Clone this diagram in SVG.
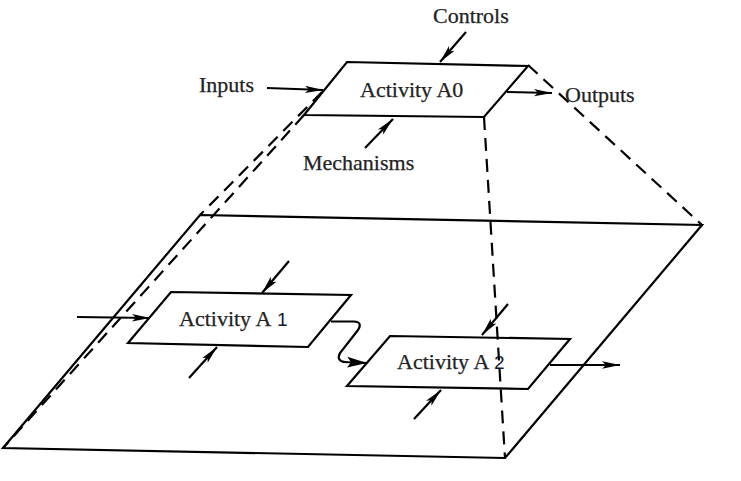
<svg xmlns="http://www.w3.org/2000/svg" width="741" height="481" viewBox="0 0 741 481">
<style>
.box{fill:none;stroke:#000;stroke-width:2.2;stroke-linejoin:miter}
.edge{fill:none;stroke:#000;stroke-width:2.2}
.dash{fill:none;stroke:#000;stroke-width:2.2;stroke-dasharray:13 8}
.arr{fill:none;stroke:#000;stroke-width:2.2;marker-end:url(#ah)}
.lbl{font-family:"Liberation Serif","Times New Roman",serif;font-size:22px;fill:#222;stroke:#222;stroke-width:0.25}
.dig{font-family:"Liberation Sans",Arial,sans-serif;font-size:19px;fill:#0d1b33}
</style>
<defs>
<marker id="ah" markerUnits="userSpaceOnUse" markerWidth="20" markerHeight="10" refX="18" refY="5" orient="auto">
<path d="M0,1.3 L18,5 L0,8.7 L4,5 Z" fill="#000"/>
</marker>
<marker id="ah2" markerUnits="userSpaceOnUse" markerWidth="22" markerHeight="14" refX="20" refY="7" orient="auto">
<path d="M0,1.5 L20,7 L0,12.5 L4,7 Z" fill="#000"/>
</marker>
</defs>
<rect width="741" height="481" fill="#fff"/>
<g id="plane">
<path class="box" d="M200,215 L702,225 L505,458 L3,448 Z"/>
</g>
<g id="connectors">
<path class="dash" d="M322,92 L200,215"/>
<path class="dash" d="M304,115 L3,448"/>
<path class="dash" d="M528,65 L702,225"/>
<path class="dash" d="M484,117 L505,458"/>
<path class="arr" d="M466,32 L440,62"/>
<path class="arr" d="M267,88 L323,90"/>
<path class="arr" d="M507,92 L552,93"/>
<path class="arr" d="M365,148 L393,119"/>
<path class="arr" d="M77,317 L150,318"/>
<path class="arr" d="M289,261 L262,293"/>
<path class="arr" d="M189,378 L217,347"/>
<path class="edge" d="M331,321.5 L354,321.5 Q363,322 358,330 L340,353 Q336,361 345,362"/>
<path d="M343,362 L367,363" fill="none" stroke="#000" stroke-width="2.2" marker-end="url(#ah2)"/>
<path class="arr" d="M508,304 L482,335"/>
<path class="arr" d="M414,419 L441,390"/>
<path class="arr" d="M550,365 L620,365"/>
</g>
<g id="A0">
<path class="box" d="M347,62 L528,66 L484,117 L304,115 Z"/>
<text class="lbl" x="360" y="97">Activity A0</text>
</g>
<g id="A1">
<path class="box" d="M171,292 L351,295 L308,347 L128,343 Z"/>
<text class="lbl" x="179" y="326">Activity A</text><text class="dig" x="277" y="326">1</text>
</g>
<g id="A2">
<path class="box" d="M390,336 L570,339 L528,389 L347,386 Z"/>
<text class="lbl" x="397" y="369">Activity A</text><text class="dig" x="494" y="369">2</text>
</g>
<g id="labels">
<text class="lbl" x="433" y="23">Controls</text>
<text class="lbl" x="199" y="92">Inputs</text>
<text class="lbl" x="565" y="102">Outputs</text>
<text class="lbl" x="303" y="170">Mechanisms</text>
</g>
</svg>
